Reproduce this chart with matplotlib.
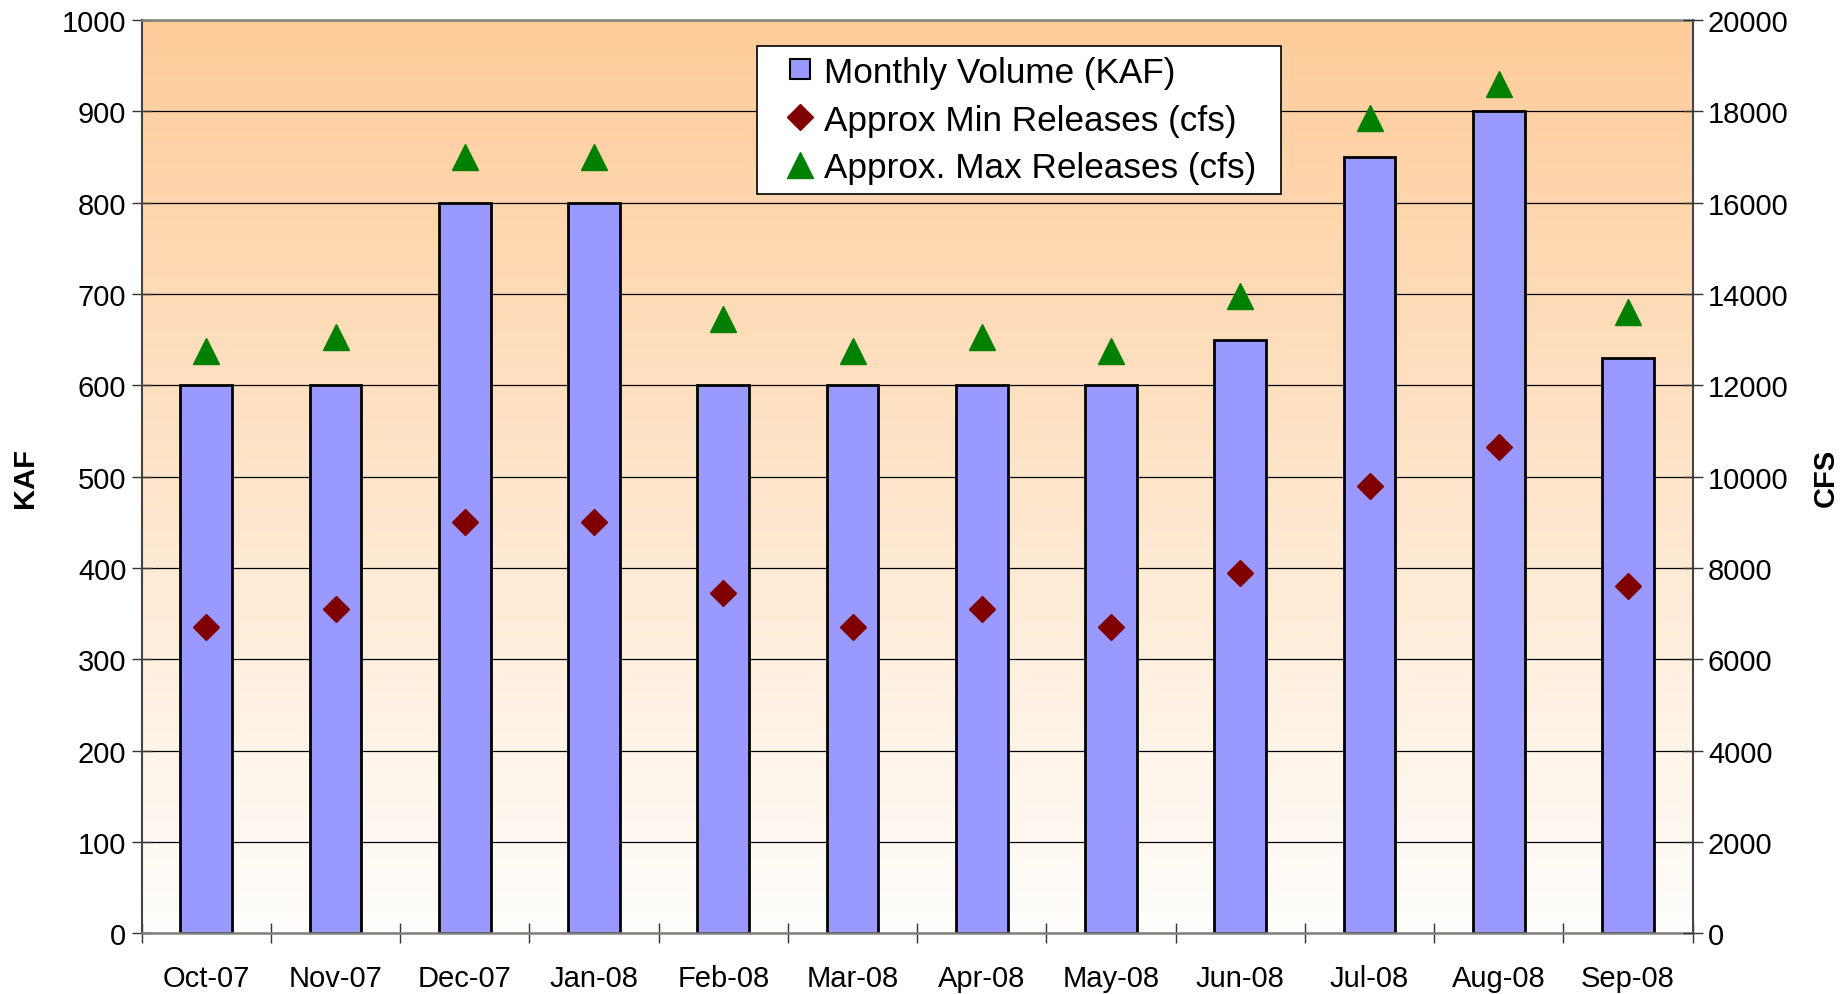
import numpy as np
import matplotlib
matplotlib.use("Agg")
import matplotlib.pyplot as plt
from matplotlib.lines import Line2D
from matplotlib.patches import Rectangle

plt.rcParams['font.family'] = ['Liberation Sans', 'DejaVu Sans']

# data
months = ['Oct-07', 'Nov-07', 'Dec-07', 'Jan-08', 'Feb-08', 'Mar-08',
          'Apr-08', 'May-08', 'Jun-08', 'Jul-08', 'Aug-08', 'Sep-08']
volume_kaf = [600, 600, 800, 800, 600, 600, 600, 600, 650, 850, 900, 630]
min_cfs = [6700, 7100, 9000, 9000, 7450, 6700, 7100, 6700, 7900, 9800, 10650, 7600]
max_cfs = [12750, 13050, 17000, 17000, 13450, 12750, 13050, 12750, 13950, 17850, 18600, 13600]

W, H = 1848, 995
fig = plt.figure(figsize=(W / 100, H / 100), dpi=100)
ax = fig.add_axes([141.7 / W, 1 - 934.3 / H, (1692.7 - 141.7) / W, (934.3 - 21) / H])

x = np.arange(len(months))

# peach -> white gradient background
top = np.array([254, 204, 153]) / 255
bot = np.array([255, 254, 252]) / 255
t = np.linspace(0, 1, 256)[:, None]
grad = (top * (1 - t) + bot * t)[:, None, :]
ax.imshow(grad, extent=[-0.5, len(months) - 0.5, 0, 1000], aspect='auto', zorder=0,
          interpolation='bilinear')

ax.bar(x, volume_kaf, width=0.4, color='#9999FF', edgecolor='black', linewidth=2, zorder=2)

ax.set_xlim(-0.5, len(months) - 0.5)
ax.set_ylim(0, 1000)
ax.set_yticks(range(0, 1001, 100))
ax.set_axisbelow(True)
ax.grid(axis='y', color='black', linewidth=0.9)

# ticks at category boundaries, labels at centres
ax.set_xticks(np.arange(-0.5, len(months)), minor=False)
ax.set_xticklabels([])
ax.set_xticks(x, minor=True)
ax.set_xticklabels(months, minor=True)
ax.tick_params(axis='x', which='major', direction='inout', length=14, width=1, color='#333333')
ax.tick_params(axis='x', which='minor', length=0, pad=22, labelsize=21)
ax.tick_params(axis='y', direction='inout', length=14, width=1, color='#333333', pad=4, labelsize=21)

for s in ['left', 'right']:
    ax.spines[s].set_color('#444444')
    ax.spines[s].set_linewidth(1.5)
for s in ['top', 'bottom']:
    ax.spines[s].set_color('#808080')
    ax.spines[s].set_linewidth(1.8)

ax.set_ylabel('KAF', fontsize=21, fontweight='bold')
ax.yaxis.set_label_coords(-0.066, 0.5)

ax2 = ax.twinx()
ax2.set_ylim(0, 20000)
ax2.set_yticks(range(0, 20001, 2000))
ax2.plot(x, min_cfs, linestyle='none', marker='D', markersize=13, color='#800000', zorder=3)
ax2.plot(x, max_cfs, linestyle='none', marker='^', markersize=19, color='#008000', zorder=3)
ax2.tick_params(axis='y', direction='inout', length=14, width=1, color='#333333', pad=4, labelsize=21)
for s in ax2.spines.values():
    s.set_visible(False)
ax2.set_ylabel('CFS', fontsize=21, fontweight='bold')
ax2.yaxis.set_label_coords(1.077, 0.5)

# legend box
fig.patches.append(Rectangle((757.3 / W, 1 - 194.7 / H), (1280.7 - 757.3) / W, (194.7 - 47.3) / H,
                             transform=fig.transFigure, facecolor='white', edgecolor='black',
                             linewidth=1.2, zorder=5))
handles = [
    Line2D([], [], linestyle='none', marker='s', markersize=15, markerfacecolor='#9999FF',
           markeredgecolor='black', markeredgewidth=1.5),
    Line2D([], [], linestyle='none', marker='D', markersize=13.5, color='#800000'),
    Line2D([], [], linestyle='none', marker='^', markersize=19, color='#008000'),
]
labels = ['Monthly Volume (KAF)', 'Approx Min Releases (cfs)', 'Approx. Max Releases (cfs)']
leg = fig.legend(handles, labels, loc='center', bbox_to_anchor=(1021 / W, 1 - 121 / H),
                 frameon=False, fontsize=25.3, borderpad=0, handlelength=0.8,
                 handletextpad=0.3, labelspacing=0.42)
leg.set_zorder(6)

fig.savefig('out.png', dpi=100)
